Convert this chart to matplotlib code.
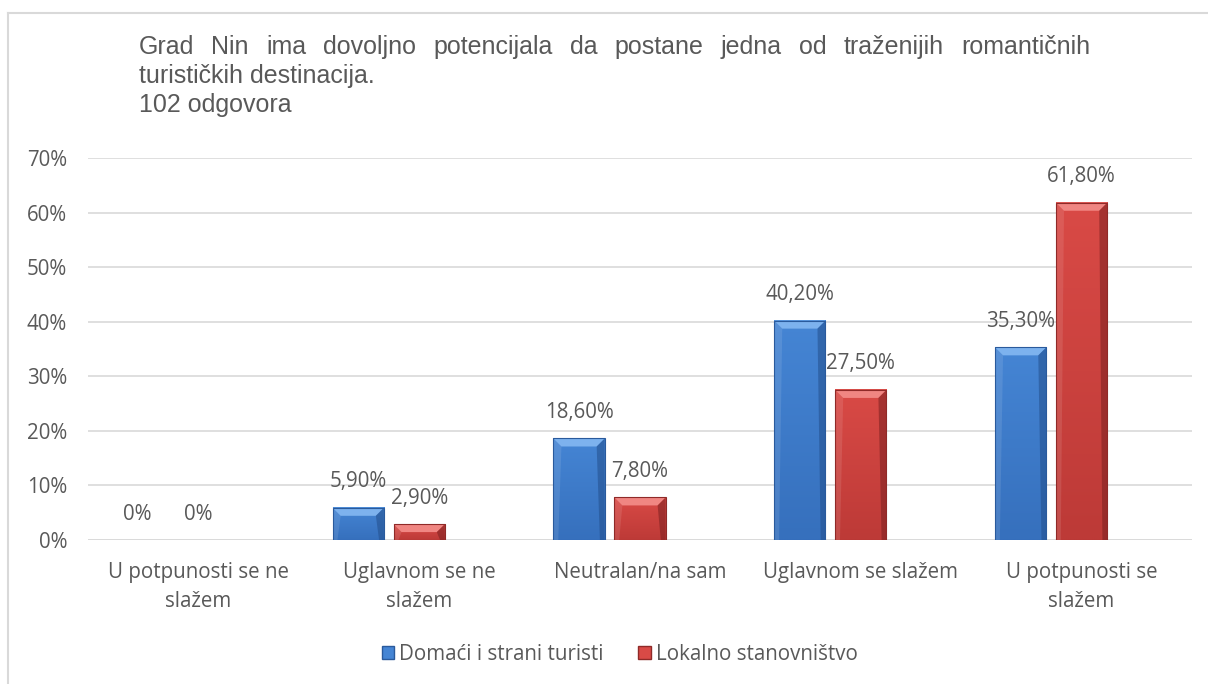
import numpy as np
import matplotlib.pyplot as plt
import matplotlib.colors as mc
from matplotlib.patches import Rectangle, Polygon
from matplotlib.lines import Line2D

# data
categories = ["U potpunosti se ne\nslažem", "Uglavnom se ne\nslažem", "Neutralan/na sam",
              "Uglavnom se slažem", "U potpunosti se\nslažem"]
turisti = [0.0, 5.9, 18.6, 40.2, 35.3]
lokalno = [0.0, 2.9, 7.8, 27.5, 61.8]
series_names = ["Domaći i strani turisti", "Lokalno stanovništvo"]
yticks = [0, 10, 20, 30, 40, 50, 60, 70]
title_lines = ["Grad Nin ima dovoljno potencijala da postane jedna od traženijih romantičnih",
               "turističkih destinacija.",
               "102 odgovora"]

# colours: (top bevel, body top, body bottom, side dark, edge)
blue = ("#7db2ee", "#4585d4", "#3670bd", "#234f8c", "#2a5a9c")
red = ("#f08682", "#d94a46", "#bd3a37", "#7a2020", "#8f2a28")
text_col = "#595959"
grid_col = "#d9d9d9"
lab_font = "Open Sans"
lab_size = 14.8

W, H = 1208, 684
fig = plt.figure(figsize=(W / 100, H / 100), dpi=100)
ax_l, ax_b, ax_r, ax_t = 88 / W, 1 - 540 / H, 1192 / W, 1 - 158 / H
ax = fig.add_axes([ax_l, ax_b, ax_r - ax_l, ax_t - ax_b])

ax.set_xlim(-0.5, len(categories) - 0.5)
ax.set_ylim(0, 70)
px_x = (len(categories)) / (W * (ax_r - ax_l))   # data units per pixel
px_y = 70 / (H * (ax_t - ax_b))

x = np.arange(len(categories))
bw = 0.232
step = 0.276


def bevel_bar(xc, h, cols):
    x0, x1 = xc - bw / 2, xc + bw / 2
    if h <= 0:
        return
    grad = np.linspace(0, 1, 50).reshape(-1, 1)
    c_top = np.array(mc.to_rgb(cols[1]))
    c_bot = np.array(mc.to_rgb(cols[2]))
    img = c_bot + (c_top - c_bot) * grad[:, :, None] * np.ones((1, 2, 1))
    ax.imshow(img, extent=(x0, x1, 0, h), origin="lower", aspect="auto",
              interpolation="bilinear", zorder=2)
    bx = 8 * px_x
    by = min(8 * px_y, h / 2)
    # top bevel
    ax.add_patch(Polygon([(x0, h), (x1, h), (x1 - bx, h - by), (x0 + bx, h - by)],
                         closed=True, facecolor=cols[0], edgecolor="none", zorder=3))
    # right side
    ax.add_patch(Polygon([(x1, h), (x1, 0), (x1 - bx * 0.6, 0), (x1 - bx, h - by)],
                         closed=True, facecolor=cols[3], edgecolor="none", alpha=0.55, zorder=3))
    # left side
    ax.add_patch(Polygon([(x0, h), (x0, 0), (x0 + bx * 0.6, 0), (x0 + bx, h - by)],
                         closed=True, facecolor="white", edgecolor="none", alpha=0.10, zorder=3))
    ax.add_patch(Rectangle((x0, 0), bw, h, facecolor="none", edgecolor=cols[4],
                           linewidth=0.8, zorder=4))


def fmt(v):
    return "0%" if v == 0 else f"{v:.2f}%".replace(".", ",")


for i in range(len(categories)):
    for v, off, cols in ((turisti[i], -step, blue), (lokalno[i], 0.0, red)):
        xc = x[i] + off
        bevel_bar(xc, v, cols)
        ax.annotate(fmt(v), (xc, v), xytext=(0, 18.7), textcoords="offset points",
                    ha="center", va="center", fontsize=lab_size, family=lab_font, color=text_col)

ax.set_yticks(yticks)
ax.set_yticklabels([f"{t}%" for t in yticks], family=lab_font, fontsize=lab_size, color=text_col)
ax.set_xticks(x)
ax.set_xticklabels(categories, family=lab_font, fontsize=lab_size, color=text_col, linespacing=1.55)
ax.tick_params(axis="y", length=0, pad=15)
ax.tick_params(axis="x", length=0, pad=15.5)
ax.grid(axis="y", color=grid_col, linewidth=1.2, zorder=0)
ax.set_axisbelow(True)
for s in ax.spines.values():
    s.set_visible(False)
ax.axhline(0, color=grid_col, linewidth=1.2, zorder=1)

# frame lines of the chart area
fig.add_artist(Line2D([8 / W, 1], [1 - 13 / H, 1 - 13 / H], color="#d9d9d9", linewidth=1.5))
fig.add_artist(Line2D([8 / W, 8 / W], [0, 1 - 13 / H], color="#d9d9d9", linewidth=1.5))

# title: first line justified
tx0, tx1 = 139 / W, 1090 / W
baselines = [54, 83, 112]
title_size = 18
fig.canvas.draw()
renderer = fig.canvas.get_renderer()
words = title_lines[0].split(" ")
objs = [fig.text(0, 1 - baselines[0] / H, w_, family="Liberation Sans", fontsize=title_size,
                 color=text_col, va="baseline") for w_ in words]
widths = [o.get_window_extent(renderer).width / W for o in objs]
gap = (tx1 - tx0 - sum(widths)) / (len(words) - 1)
pos = tx0
for o, wd in zip(objs, widths):
    o.set_x(pos)
    pos += wd + gap
for line, b in zip(title_lines[1:], baselines[1:]):
    fig.text(tx0, 1 - b / H, line, family="Liberation Sans", fontsize=title_size,
             color=text_col, va="baseline")

handles = [Rectangle((0, 0), 1, 1, facecolor=blue[1], edgecolor=blue[4]),
           Rectangle((0, 0), 1, 1, facecolor=red[1], edgecolor=red[4])]
fig.legend(handles, series_names, loc="center", bbox_to_anchor=(0.513, 1 - 654 / H),
           ncol=2, frameon=False, prop={"family": lab_font, "size": lab_size},
           labelcolor=text_col, handlelength=0.6, handleheight=0.6,
           handletextpad=0.25, columnspacing=1.7)

fig.savefig("out.png", dpi=100)
